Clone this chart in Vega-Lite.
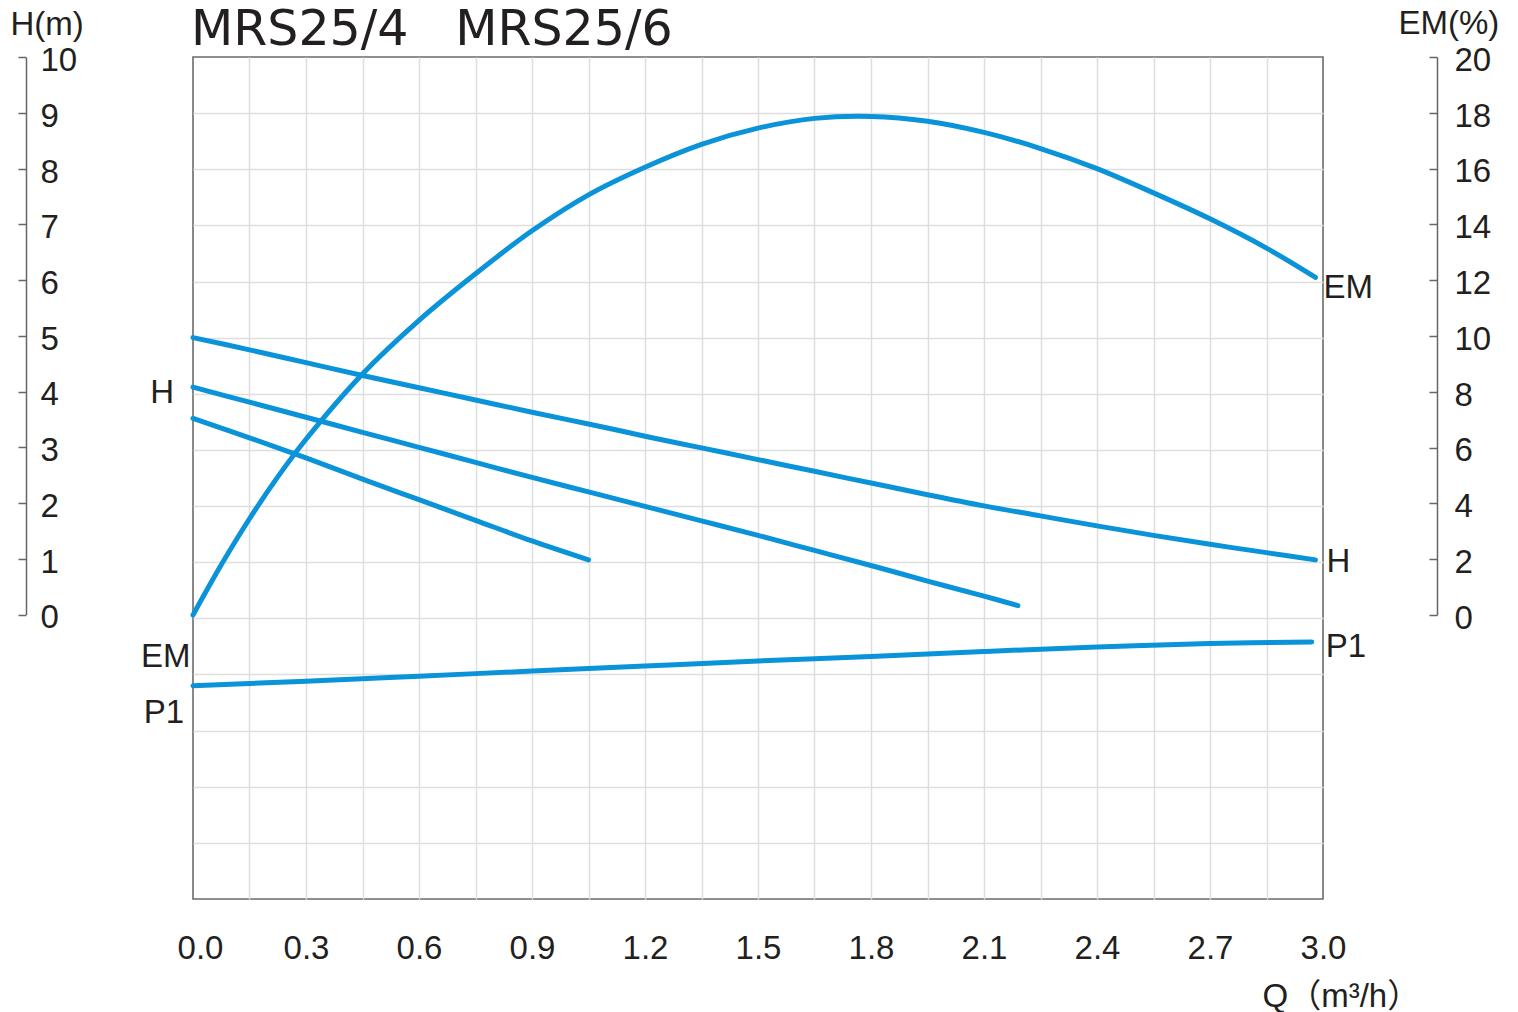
{
  "$schema": "https://vega.github.io/schema/vega-lite/v6.json",
  "width": 1130,
  "height": 842,
  "autosize": {"type": "none"},
  "padding": {"left": 193, "top": 57, "right": 195, "bottom": 113},
  "background": "white",
  "config": {
    "view": {"stroke": "#6b6b6b", "strokeWidth": 1.6},
    "font": "Liberation Sans",
    "text": {"font": "Liberation Sans", "fontSize": 33, "color": "#231f20"}
  },
  "title": {
    "text": "MRS25/4\u00a0\u00a0\u00a0MRS25/6",
    "anchor": "start",
    "frame": "group",
    "font": "DejaVu Sans",
    "fontSize": 49,
    "fontWeight": "normal",
    "color": "#231f20",
    "baseline": "alphabetic",
    "offset": 10,
    "dx": -2,
    "dy": 97
  },
  "datasets": {
    "p1": [
      {"q": 0, "p": 3.8}, {"q": 0.3, "p": 3.88}, {"q": 0.6, "p": 3.97}, {"q": 0.9, "p": 4.06},
      {"q": 1.2, "p": 4.15}, {"q": 1.5, "p": 4.24}, {"q": 1.8, "p": 4.32}, {"q": 2.1, "p": 4.41},
      {"q": 2.4, "p": 4.49}, {"q": 2.7, "p": 4.55}, {"q": 2.97, "p": 4.58}
    ],
    "h": [
      {"curve": "MRS25/6", "q": 0, "h": 4.97}, {"curve": "MRS25/6", "q": 0.15, "h": 4.75}, {"curve": "MRS25/6", "q": 0.3, "h": 4.52},
      {"curve": "MRS25/6", "q": 0.45, "h": 4.29}, {"curve": "MRS25/6", "q": 0.6, "h": 4.07}, {"curve": "MRS25/6", "q": 0.75, "h": 3.85},
      {"curve": "MRS25/6", "q": 0.9, "h": 3.63}, {"curve": "MRS25/6", "q": 1.05, "h": 3.42}, {"curve": "MRS25/6", "q": 1.2, "h": 3.2},
      {"curve": "MRS25/6", "q": 1.35, "h": 2.99}, {"curve": "MRS25/6", "q": 1.5, "h": 2.78}, {"curve": "MRS25/6", "q": 1.65, "h": 2.57},
      {"curve": "MRS25/6", "q": 1.8, "h": 2.36}, {"curve": "MRS25/6", "q": 1.95, "h": 2.15}, {"curve": "MRS25/6", "q": 2.1, "h": 1.95},
      {"curve": "MRS25/6", "q": 2.25, "h": 1.77}, {"curve": "MRS25/6", "q": 2.4, "h": 1.59}, {"curve": "MRS25/6", "q": 2.55, "h": 1.42},
      {"curve": "MRS25/6", "q": 2.7, "h": 1.26}, {"curve": "MRS25/6", "q": 2.85, "h": 1.11}, {"curve": "MRS25/6", "q": 2.98, "h": 0.98},
      {"curve": "MRS25/4", "q": 0, "h": 4.08}, {"curve": "MRS25/4", "q": 0.15, "h": 3.81}, {"curve": "MRS25/4", "q": 0.3, "h": 3.54},
      {"curve": "MRS25/4", "q": 0.45, "h": 3.27}, {"curve": "MRS25/4", "q": 0.6, "h": 3.0}, {"curve": "MRS25/4", "q": 0.75, "h": 2.73},
      {"curve": "MRS25/4", "q": 0.9, "h": 2.46}, {"curve": "MRS25/4", "q": 1.05, "h": 2.2}, {"curve": "MRS25/4", "q": 1.2, "h": 1.94},
      {"curve": "MRS25/4", "q": 1.35, "h": 1.68}, {"curve": "MRS25/4", "q": 1.5, "h": 1.42}, {"curve": "MRS25/4", "q": 1.65, "h": 1.15},
      {"curve": "MRS25/4", "q": 1.8, "h": 0.88}, {"curve": "MRS25/4", "q": 1.95, "h": 0.6}, {"curve": "MRS25/4", "q": 2.1, "h": 0.33},
      {"curve": "MRS25/4", "q": 2.19, "h": 0.16},
      {"curve": "low", "q": 0, "h": 3.52}, {"curve": "low", "q": 0.15, "h": 3.17}, {"curve": "low", "q": 0.3, "h": 2.81},
      {"curve": "low", "q": 0.45, "h": 2.43}, {"curve": "low", "q": 0.6, "h": 2.06}, {"curve": "low", "q": 0.75, "h": 1.69},
      {"curve": "low", "q": 0.9, "h": 1.32}, {"curve": "low", "q": 1.05, "h": 0.98}
    ],
    "em": [
      {"q": 0, "em": 0}, {"q": 0.075, "em": 1.8}, {"q": 0.15, "em": 3.45}, {"q": 0.225, "em": 4.95},
      {"q": 0.3, "em": 6.3}, {"q": 0.45, "em": 8.64}, {"q": 0.6, "em": 10.56}, {"q": 0.75, "em": 12.23},
      {"q": 0.9, "em": 13.77}, {"q": 1.05, "em": 15.06}, {"q": 1.2, "em": 16.05}, {"q": 1.35, "em": 16.87},
      {"q": 1.5, "em": 17.45}, {"q": 1.65, "em": 17.8}, {"q": 1.8, "em": 17.87}, {"q": 1.95, "em": 17.7},
      {"q": 2.1, "em": 17.3}, {"q": 2.25, "em": 16.72}, {"q": 2.4, "em": 16.0}, {"q": 2.55, "em": 15.13},
      {"q": 2.7, "em": 14.2}, {"q": 2.85, "em": 13.15}, {"q": 2.98, "em": 12.1}
    ],
    "labels": [
      {"id": "H_left", "text": "H", "q": 0, "v": 4.08},
      {"id": "H_right", "text": "H", "q": 2.98, "v": 0.98},
      {"id": "EM_left", "text": "EM", "q": 0, "v": 0},
      {"id": "EM_right", "text": "EM", "q": 2.98, "v": 12.1},
      {"id": "P1_left", "text": "P1", "q": 0, "v": 3.8},
      {"id": "P1_right", "text": "P1", "q": 2.97, "v": 4.58}
    ]
  },
  "layer": [
    {
      "layer": [
        {
          "data": {"name": "p1"},
          "mark": {"type": "line", "color": "#0a93d9", "strokeWidth": 5, "strokeCap": "round", "interpolate": "catmull-rom"},
          "encoding": {
            "x": {
              "field": "q", "type": "quantitative",
              "scale": {"domain": [0, 3], "nice": false, "zero": false},
              "axis": {
                "values": [0, 0.15, 0.3, 0.45, 0.6, 0.75, 0.9, 1.05, 1.2, 1.35, 1.5, 1.65, 1.8, 1.95, 2.1, 2.25, 2.4, 2.55, 2.7, 2.85, 3],
                "grid": true, "gridColor": "#dedede", "gridWidth": 1.5,
                "gridOpacity": {"condition": {"test": "datum.value == 0 || datum.value == 3", "value": 0}, "value": 1},
                "ticks": false, "domain": false,
                "labelExpr": "round(datum.value * 100) % 30 == 0 ? format(datum.value, '.1f') : ''",
                "labelFont": "Liberation Sans", "labelFontSize": 33, "labelColor": "#231f20",
                "labelPadding": 59, "labelBaseline": "alphabetic", "labelFlush": false, "labelOverlap": false,
                "labelOffset": {"condition": {"test": "datum.value == 0", "value": 7}, "value": 0},
                "title": "Q（m³/h）",
                "titleFont": "Liberation Sans, Noto Sans CJK SC", "titleFontSize": 33, "titleFontWeight": "normal",
                "titleColor": "#231f20", "titleX": 1069, "titleY": 107, "titleAlign": "left", "titleBaseline": "alphabetic", "titleAnchor": null
              }
            },
            "y": {
              "field": "p", "type": "quantitative",
              "scale": {"domain": [0, 15], "nice": false, "zero": false},
              "axis": {
                "orient": "left",
                "values": [1, 2, 3, 4, 5, 6, 7, 8, 9, 10, 11, 12, 13, 14],
                "grid": true, "gridColor": "#dedede", "gridWidth": 1.5,
                "labels": false, "ticks": false, "domain": false, "title": null
              }
            }
          }
        },
        {
          "data": {"name": "labels"},
          "transform": [{"filter": "datum.id == 'P1_left'"}],
          "mark": {"type": "text", "align": "right", "baseline": "alphabetic", "dx": -9, "dy": 37.6},
          "encoding": {"x": {"field": "q", "type": "quantitative"}, "y": {"field": "v", "type": "quantitative"}, "text": {"field": "text"}}
        },
        {
          "data": {"name": "labels"},
          "transform": [{"filter": "datum.id == 'P1_right'"}],
          "mark": {"type": "text", "align": "left", "baseline": "alphabetic", "dx": 14, "dy": 15},
          "encoding": {"x": {"field": "q", "type": "quantitative"}, "y": {"field": "v", "type": "quantitative"}, "text": {"field": "text"}}
        }
      ]
    },
    {
      "layer": [
        {
          "data": {"name": "h"},
          "mark": {"type": "line", "color": "#0a93d9", "strokeWidth": 5, "strokeCap": "round", "interpolate": "catmull-rom"},
          "encoding": {
            "x": {"field": "q", "type": "quantitative"},
            "detail": {"field": "curve"},
            "y": {
              "field": "h", "type": "quantitative",
              "scale": {"domain": [0, 10], "range": [557.5, 0.3], "nice": false, "zero": false},
              "axis": {
                "orient": "right", "offset": -1297,
                "values": [0, 1, 2, 3, 4, 5, 6, 7, 8, 9, 10],
                "format": "d",
                "grid": false,
                "domain": true, "domainColor": "#666666", "domainWidth": 1.5,
                "ticks": true, "tickSize": -8, "tickColor": "#666666", "tickWidth": 1.5,
                "labelPadding": 22, "labelAlign": "left", "labelBaseline": "alphabetic", "labelOffset": 13.3,
                "labelFont": "Liberation Sans", "labelFontSize": 33, "labelColor": "#231f20", "labelOverlap": false, "labelFlush": false,
                "title": "H(m)", "titleAngle": 0, "titleX": -16, "titleY": -23, "titleAlign": "left", "titleBaseline": "alphabetic",
                "titleFont": "Liberation Sans", "titleFontSize": 33, "titleFontWeight": "normal", "titleColor": "#231f20"
              }
            }
          }
        },
        {
          "data": {"name": "labels"},
          "transform": [{"filter": "datum.id == 'H_left'"}],
          "mark": {"type": "text", "align": "right", "baseline": "alphabetic", "dx": -19, "dy": 15.8},
          "encoding": {"x": {"field": "q", "type": "quantitative"}, "y": {"field": "v", "type": "quantitative"}, "text": {"field": "text"}}
        },
        {
          "data": {"name": "labels"},
          "transform": [{"filter": "datum.id == 'H_right'"}],
          "mark": {"type": "text", "align": "left", "baseline": "alphabetic", "dx": 11, "dy": 12},
          "encoding": {"x": {"field": "q", "type": "quantitative"}, "y": {"field": "v", "type": "quantitative"}, "text": {"field": "text"}}
        }
      ]
    },
    {
      "layer": [
        {
          "data": {"name": "em"},
          "mark": {"type": "line", "color": "#0a93d9", "strokeWidth": 5, "strokeCap": "round", "interpolate": "catmull-rom"},
          "encoding": {
            "x": {"field": "q", "type": "quantitative"},
            "y": {
              "field": "em", "type": "quantitative",
              "scale": {"domain": [0, 20], "range": [558, 0], "nice": false, "zero": false},
              "axis": {
                "orient": "right", "offset": 114,
                "values": [0, 2, 4, 6, 8, 10, 12, 14, 16, 18, 20],
                "format": "d",
                "grid": false,
                "domain": true, "domainColor": "#666666", "domainWidth": 1.5,
                "ticks": true, "tickSize": -8, "tickColor": "#666666", "tickWidth": 1.5,
                "labelPadding": 25, "labelAlign": "left", "labelBaseline": "alphabetic", "labelOffset": 13.3,
                "labelFont": "Liberation Sans", "labelFontSize": 33, "labelColor": "#231f20", "labelOverlap": false, "labelFlush": false,
                "title": "EM(%)", "titleAngle": 0, "titleX": -39, "titleY": -24, "titleAlign": "left", "titleBaseline": "alphabetic",
                "titleFont": "Liberation Sans", "titleFontSize": 33, "titleFontWeight": "normal", "titleColor": "#231f20"
              }
            }
          }
        },
        {
          "data": {"name": "labels"},
          "transform": [{"filter": "datum.id == 'EM_left'"}],
          "mark": {"type": "text", "align": "right", "baseline": "alphabetic", "dx": -2.5, "dy": 52},
          "encoding": {"x": {"field": "q", "type": "quantitative"}, "y": {"field": "v", "type": "quantitative"}, "text": {"field": "text"}}
        },
        {
          "data": {"name": "labels"},
          "transform": [{"filter": "datum.id == 'EM_right'"}],
          "mark": {"type": "text", "align": "left", "baseline": "alphabetic", "dx": 8, "dy": 20.6},
          "encoding": {"x": {"field": "q", "type": "quantitative"}, "y": {"field": "v", "type": "quantitative"}, "text": {"field": "text"}}
        }
      ]
    }
  ],
  "resolve": {"scale": {"y": "independent"}, "axis": {"y": "independent"}}
}
